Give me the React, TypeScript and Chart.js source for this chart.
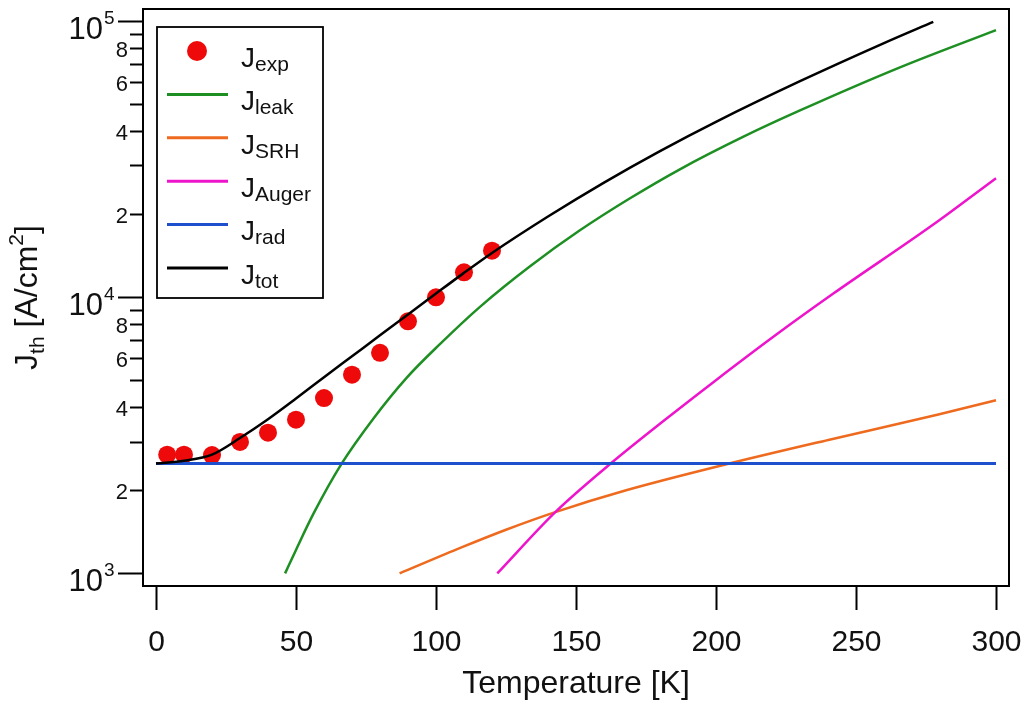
import React, { useEffect, useRef } from 'react';
import { Chart, registerables } from 'chart.js';

Chart.register(...registerables);

const FONT = '"Liberation Sans", Arial, sans-serif';

// data: T in K, J in A/cm^2
const expT = [4, 10, 20, 30, 40, 50, 60, 70, 80, 90, 100, 110, 120];
const expJ = [2690, 2690, 2680, 2990, 3230, 3600, 4310, 5240, 6290, 8180, 9990, 12300, 14740];

const leakT = [46.1, 50, 56.2, 66.3, 77.6, 89.5, 101.4, 115.7, 133.6, 151.4, 169.3, 187.1, 210, 230, 265.7, 300];
const leakJ = [1000, 1216, 1641, 2495, 3631, 5105, 6761, 9226, 12942, 17458, 22803, 29040, 38190, 47420, 67920, 92680];

const srhT = [87, 109.1, 125, 142.6, 167.3, 203.7, 240.1, 279.4, 300];
const srhJ = [1000, 1242, 1439, 1667, 1991, 2483, 3041, 3758, 4236];

const augerT = [121.9, 142.6, 162.3, 181.9, 199.4, 221.2, 241.9, 277.6, 300];
const augerJ = [1000, 1667, 2495, 3606, 4955, 7278, 10304, 18323, 26977];

const radT = [0, 300];
const radJ = [2500, 2500];

const totT = [0, 10, 20, 30, 40, 50, 60, 70, 80, 90, 100, 110, 120, 140, 160, 180, 200, 230, 260, 277.6];
const totJ = [2500, 2559, 2692, 3090, 3614, 4295, 5129, 6109, 7278, 8650, 10304, 12246, 14454, 19588, 26002, 33810, 43152, 60534, 83176, 99312];

// axis ticks
const xTicks = [0, 50, 100, 150, 200, 250, 300];
const yMajorTicks = [1e3, 1e4, 1e5];
const yMajorExp = ['3', '4', '5'];
const yMinorMult = [2, 3, 4, 5, 6, 7, 8, 9];
const yMinorLabels = ['2', '', '4', '', '6', '', '8', ''];

// legend entries
const legendSubs = ['exp', 'leak', 'SRH', 'Auger', 'rad', 'tot'];

const COL = {
  exp: '#ee0a0a',
  leak: '#1e8f22',
  srh: '#ee6a1e',
  auger: '#ee14cc',
  rad: '#1e4fcc',
  tot: '#000000',
};

const pts = (xs: number[], ys: number[]) => xs.map((x, i) => ({ x, y: ys[i] }));

const line = (label: string, xs: number[], ys: number[], color: string, width = 2.5) => ({
  label,
  data: pts(xs, ys),
  showLine: true,
  borderColor: color,
  backgroundColor: color,
  borderWidth: width,
  pointRadius: 0,
  tension: 0.4,
  cubicInterpolationMode: 'monotone' as const,
});

const drawRich = (
  ctx: CanvasRenderingContext2D,
  parts: { t: string; size: number; dy: number }[],
  x: number,
  y: number
) => {
  let cx = x;
  for (const p of parts) {
    ctx.font = `${p.size}px ${FONT}`;
    ctx.fillText(p.t, cx, y + p.dy);
    cx += ctx.measureText(p.t).width;
  }
  return cx - x;
};

const richWidth = (ctx: CanvasRenderingContext2D, parts: { t: string; size: number; dy: number }[]) => {
  let w = 0;
  for (const p of parts) {
    ctx.font = `${p.size}px ${FONT}`;
    w += ctx.measureText(p.t).width;
  }
  return w;
};

const axesPlugin = {
  id: 'igorAxes',
  afterDraw(chart: any) {
    const ctx: CanvasRenderingContext2D = chart.ctx;
    const { left, top, right, bottom } = chart.chartArea;
    const xs = chart.scales.x;
    const ys = chart.scales.y;
    ctx.save();
    ctx.strokeStyle = '#000';
    ctx.fillStyle = '#111';
    ctx.lineWidth = 2;

    // frame
    ctx.strokeRect(left, top, right - left, bottom - top);

    // x ticks
    ctx.textAlign = 'center';
    ctx.textBaseline = 'alphabetic';
    ctx.font = `30px ${FONT}`;
    xTicks.forEach((t) => {
      const px = Math.round(xs.getPixelForValue(t)) + 0.5;
      ctx.beginPath();
      ctx.moveTo(px, bottom + 1);
      ctx.lineTo(px, bottom + 24);
      ctx.stroke();
      ctx.fillText(String(t), px, 651);
    });

    // y ticks
    yMajorTicks.forEach((v, i) => {
      const py = Math.round(ys.getPixelForValue(v)) + 0.5;
      ctx.beginPath();
      ctx.moveTo(left - 25, py);
      ctx.lineTo(left, py);
      ctx.stroke();
      ctx.textAlign = 'right';
      ctx.font = `31px ${FONT}`;
      ctx.fillText('10', 103, py + 17);
      ctx.textAlign = 'left';
      ctx.font = `19px ${FONT}`;
      ctx.fillText(yMajorExp[i], 104, py + 2);
      if (i < yMajorTicks.length - 1) {
        yMinorMult.forEach((m, k) => {
          const my = Math.round(ys.getPixelForValue(v * m)) + 0.5;
          ctx.beginPath();
          ctx.moveTo(left - 13, my);
          ctx.lineTo(left, my);
          ctx.stroke();
          if (yMinorLabels[k]) {
            ctx.textAlign = 'right';
            ctx.textBaseline = 'middle';
            ctx.font = `22px ${FONT}`;
            ctx.fillText(yMinorLabels[k], 128, my + 2);
            ctx.textBaseline = 'alphabetic';
          }
        });
      }
    });

    // axis titles
    ctx.textAlign = 'center';
    ctx.font = `32px ${FONT}`;
    ctx.fillText('Temperature [K]', (left + right) / 2, 693);

    const yTitle = [
      { t: 'J', size: 32, dy: 0 },
      { t: 'th', size: 21, dy: 7 },
      { t: ' [A/cm', size: 32, dy: 0 },
      { t: '2', size: 21, dy: -14 },
      { t: ']', size: 32, dy: 0 },
    ];
    ctx.save();
    ctx.translate(37, (top + bottom) / 2);
    ctx.rotate(-Math.PI / 2);
    ctx.textAlign = 'left';
    const tw = richWidth(ctx, yTitle);
    drawRich(ctx, yTitle, -tw / 2, 0);
    ctx.restore();

    // legend
    const bx = 157, by = 27, bw = 166, bh = 271;
    ctx.fillStyle = '#fff';
    ctx.fillRect(bx, by, bw, bh);
    ctx.lineWidth = 1.8;
    ctx.strokeRect(bx, by, bw, bh);
    const colors = [COL.exp, COL.leak, COL.srh, COL.auger, COL.rad, COL.tot];
    ctx.textAlign = 'left';
    legendSubs.forEach((sub, i) => {
      const ry = 51 + i * 43.4;
      if (i === 0) {
        ctx.fillStyle = colors[i];
        ctx.beginPath();
        ctx.arc(197, ry, 10, 0, Math.PI * 2);
        ctx.fill();
      } else {
        ctx.strokeStyle = colors[i];
        ctx.lineWidth = 3;
        ctx.beginPath();
        ctx.moveTo(167, ry);
        ctx.lineTo(228, ry);
        ctx.stroke();
      }
      ctx.fillStyle = '#111';
      drawRich(
        ctx,
        [
          { t: 'J', size: 28, dy: 0 },
          { t: sub, size: 21, dy: 4 },
        ],
        241,
        ry + 15.7
      );
    });
    ctx.restore();
  },
};

export default function App() {
  const canvasRef = useRef<HTMLCanvasElement>(null);

  useEffect(() => {
    const canvas = canvasRef.current;
    if (!canvas) return;
    const chart = new Chart(canvas, {
      type: 'scatter',
      data: {
        datasets: [
          line('J_tot', totT, totJ, COL.tot),
          line('J_rad', radT, radJ, COL.rad, 3),
          {
            label: 'J_exp',
            data: pts(expT, expJ),
            showLine: false,
            pointRadius: 9,
            pointBorderWidth: 0,
            backgroundColor: COL.exp,
            borderColor: COL.exp,
          },
          line('J_Auger', augerT, augerJ, COL.auger),
          line('J_SRH', srhT, srhJ, COL.srh),
          line('J_leak', leakT, leakJ, COL.leak),
        ] as any,
      },
      options: {
        animation: false,
        responsive: true,
        maintainAspectRatio: false,
        layout: { padding: { left: 143, top: 8, right: 15, bottom: 121 } },
        plugins: {
          legend: { display: false },
          tooltip: { enabled: false },
        },
        scales: {
          x: { type: 'linear', min: -4.64, max: 304.64, display: false },
          y: { type: 'logarithmic', min: 900, max: 110500, display: false },
        },
      },
      plugins: [axesPlugin],
    });
    return () => chart.destroy();
  }, []);

  return (
    <div style={{ position: 'absolute', left: 0, top: 0, width: 1024, height: 707, background: '#fff' }}>
      <canvas ref={canvasRef} />
    </div>
  );
}
